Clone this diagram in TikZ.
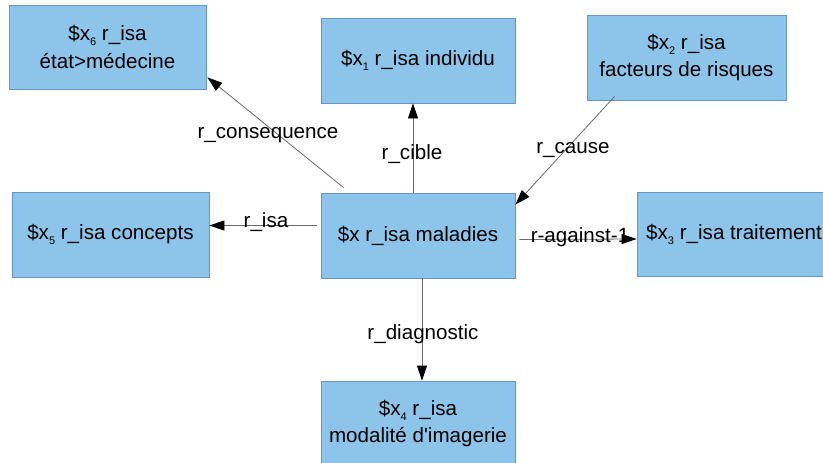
\documentclass[tikz,border=0pt]{standalone}
\usepackage{fontspec}
\setmainfont{Liberation Sans}
\usepackage{tikz}
\usetikzlibrary{arrows.meta}
\definecolor{boxblue}{RGB}{140,196,234}
\definecolor{boxedge}{RGB}{100,150,200}
\definecolor{linkgray}{RGB}{105,105,105}
\newcommand{\subx}[1]{\raisebox{-5pt}{\fontsize{11}{11}\selectfont #1}}

\begin{document}
\begin{tikzpicture}[x=1pt,y=-1pt,
  box/.style={draw=boxedge, fill=boxblue, line width=0.8pt, minimum width=194pt,
    minimum height=85pt, inner sep=0pt, align=center, font=\fontsize{20.6}{27.5}\selectfont},
  rel/.style={draw=linkgray, line width=0.8pt, -{Triangle[length=15pt,width=10pt,color=black]}},
  lbl/.style={anchor=base, inner sep=0pt, font=\fontsize{20.6}{26}\selectfont}]
\useasboundingbox (0,0) rectangle (823,463);
\clip (0,0) rectangle (823,463);
%BOXES
\node[box] (main) at (418,235.5) {\$x r\_isa maladies};
\node[box, minimum width=197pt, minimum height=84pt] (x6) at (107.5,47) {\$x\subx{6} r\_isa\\état>médecine};
\node[box] (x1) at (418,60.5) {\$x\subx{1} r\_isa individu};
\node[box, minimum width=199pt] (x2) at (686.5,57.5) {\$x\subx{2} r\_isa\\facteurs de risques};
\node[box, minimum width=197pt] (x5) at (110.5,234.5) {\$x\subx{5} r\_isa concepts};
\node[box, minimum height=84pt] (x3) at (734,234) {\$x\subx{3} r\_isa traitement};
\node[box] (x4) at (418,423.5) {\$x\subx{4} r\_isa\\modalité d\textquotesingle imagerie};
%LINKS
\draw[rel] ([xshift=23pt,yshift=5pt]main.north west) -- ([xshift=1pt,yshift=12pt]x6.south east);
\draw[rel] ([xshift=-5pt]main.north) -- ([xshift=-5pt]x1.south);
\draw[rel] ([xshift=28pt,yshift=4pt]x2.south west) -- ([yshift=-12pt]main.north east);
\draw[rel] ([xshift=4pt,yshift=-4pt]main.east) -- ([yshift=-5pt]x3.west);
\draw[rel] ([xshift=-4pt,yshift=10pt]main.west) -- ([yshift=9pt]x5.east);
\draw[rel] ([xshift=4pt]main.south) -- ([xshift=4pt]x4.north);
%LABELS
\node[lbl] (lconseq) at (268,138) {r\_consequence};
\node[lbl] (lcible) at (412,159) {r\_cible};
\node[lbl] (lcause) at (573,153) {r\_cause};
\node[lbl] (lagainst) at (580,242) {r-against-1};
\node[lbl] (lisa) at (266,227) {r\_isa};
\node[lbl] (ldiag) at (423,339) {r\_diagnostic};
\end{tikzpicture}
\end{document}
